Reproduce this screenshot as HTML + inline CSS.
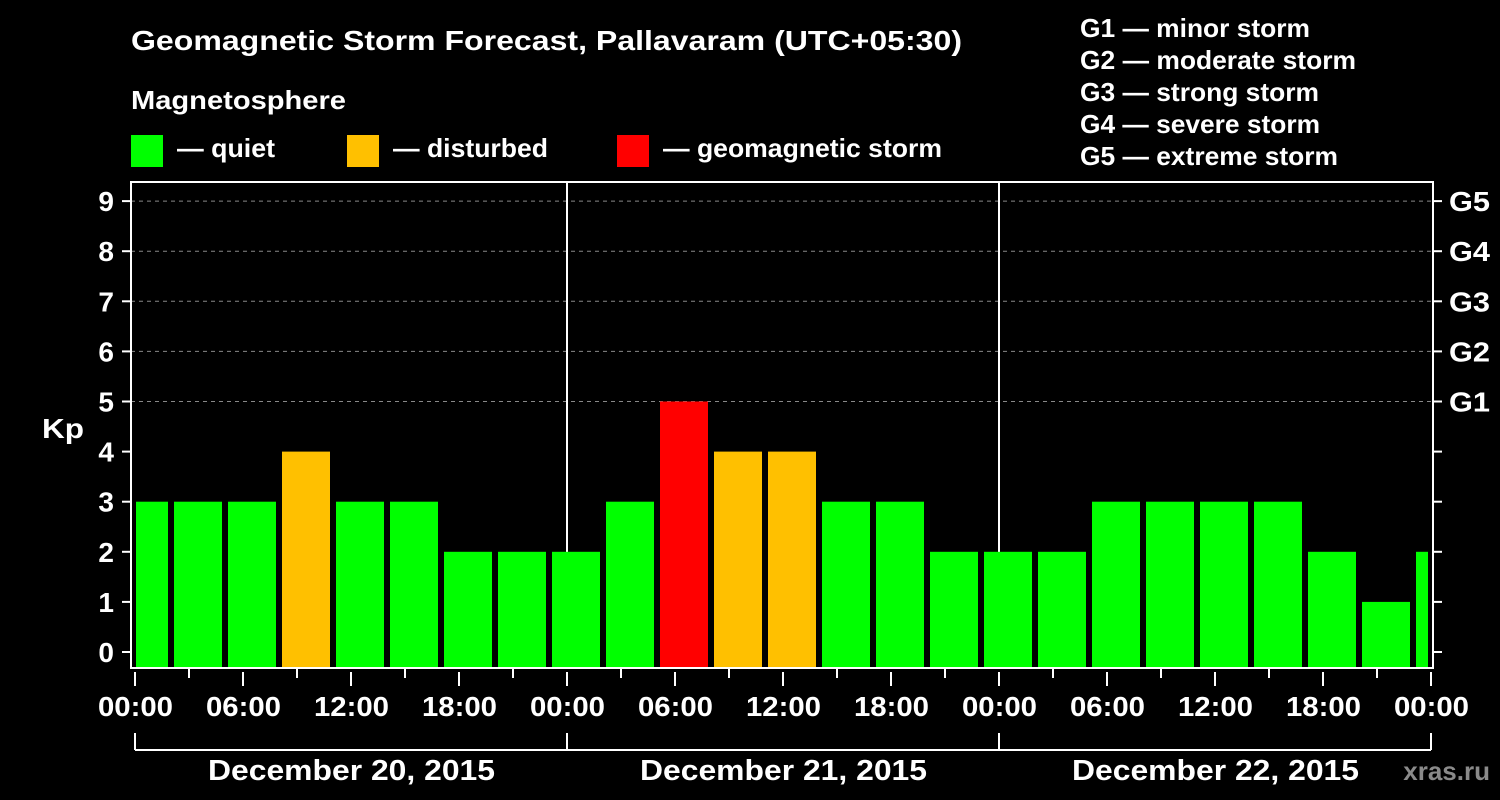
<!DOCTYPE html>
<html><head><meta charset="utf-8"><style>
html,body{margin:0;padding:0;background:#000;}
svg{display:block;font-family:"Liberation Sans",Arial,sans-serif;font-weight:bold;}
</style></head><body>
<svg id="chart" width="1500" height="800" xmlns="http://www.w3.org/2000/svg">
<rect x="0" y="0" width="1500" height="800" fill="#000"/>
<text x="131" y="50" fill="#fff" font-size="28" textLength="831" lengthAdjust="spacingAndGlyphs">Geomagnetic Storm Forecast, Pallavaram (UTC+05:30)</text>
<text x="131" y="109" fill="#fff" font-size="26" textLength="215" lengthAdjust="spacingAndGlyphs">Magnetosphere</text>
<g><rect x="131" y="135" width="32" height="32" fill="#00ff00"/><text x="177" y="157" fill="#fff" font-size="26" textLength="98" lengthAdjust="spacingAndGlyphs">— quiet</text></g>
<g><rect x="347" y="135" width="32" height="32" fill="#ffc000"/><text x="393" y="157" fill="#fff" font-size="26" textLength="155" lengthAdjust="spacingAndGlyphs">— disturbed</text></g>
<g><rect x="617" y="135" width="32" height="32" fill="#ff0000"/><text x="663" y="157" fill="#fff" font-size="26" textLength="279" lengthAdjust="spacingAndGlyphs">— geomagnetic storm</text></g>
<g fill="#fff" font-size="26">
<text x="1080" y="37" textLength="230" lengthAdjust="spacingAndGlyphs">G1 — minor storm</text>
<text x="1080" y="69" textLength="276" lengthAdjust="spacingAndGlyphs">G2 — moderate storm</text>
<text x="1080" y="101" textLength="239" lengthAdjust="spacingAndGlyphs">G3 — strong storm</text>
<text x="1080" y="133" textLength="240" lengthAdjust="spacingAndGlyphs">G4 — severe storm</text>
<text x="1080" y="165" textLength="258" lengthAdjust="spacingAndGlyphs">G5 — extreme storm</text>
</g>
<text x="42" y="438" fill="#fff" font-size="28" textLength="42" lengthAdjust="spacingAndGlyphs">Kp</text>
<text x="1490" y="780" fill="#8a8a8a" font-size="26" text-anchor="end">xras.ru</text>
<defs><clipPath id="pc"><rect x="136" y="182" width="1292" height="486"/></clipPath></defs>
<g id="grid"></g>
<g id="bars" clip-path="url(#pc)"></g>
<g id="axes"></g>
</svg>
<script>
const kpValues=[3,3,3,4,3,3,2,2,2,3,5,4,4,3,3,2,2,2,3,3,3,3,2,1,2];
const barStartHours=[-1,2,5,8,11,14,17,20,23,26,29,32,35,38,41,44,47,50,53,56,59,62,65,68,71];
const yTicks=[0,1,2,3,4,5,6,7,8,9];
const gLabels=["G1","G2","G3","G4","G5"];
const gLevels=[5,6,7,8,9];
const xTickLabels=["00:00","06:00","12:00","18:00","00:00","06:00","12:00","18:00","00:00","06:00","12:00","18:00","00:00"];
const dayLabels=["December 20, 2015","December 21, 2015","December 22, 2015"];
const NS="http://www.w3.org/2000/svg";
const X=h=>135+h*18, Y=v=>652-v*50.1;
function mk(tag,attrs,parent,text){const e=document.createElementNS(NS,tag);for(const k in attrs)e.setAttribute(k,attrs[k]);if(text!==undefined)e.textContent=text;document.getElementById(parent).appendChild(e);return e;}
const color=v=>v>=5?"#ff0000":v>=4?"#ffc000":"#00ff00";
gLevels.forEach((g,i)=>{
 const l=mk("line",{x1:131,x2:1433,y1:Y(g),y2:Y(g),stroke:"#888","stroke-dasharray":"4,4","stroke-width":1},"grid");
 
 
});
[1,2].forEach(d=>{const l=mk("line",{x1:X(d*24),x2:X(d*24),y1:182,y2:668,stroke:"#fff","stroke-width":2},"grid");
 
 });
kpValues.forEach((v,i)=>{
 const r=mk("rect",{x:X(barStartHours[i])+3,y:Y(v),width:48,height:668-Y(v),fill:color(v)},"bars");
 
 
});
const f=mk("rect",{x:131,y:182,width:1302,height:486,fill:"none",stroke:"#fff","stroke-width":2},"axes");


yTicks.forEach(v=>{
 mk("line",{x1:122,x2:131,y1:Y(v),y2:Y(v),stroke:"#fff","stroke-width":2},"axes");
 mk("line",{x1:1433,x2:1442,y1:Y(v),y2:Y(v),stroke:"#fff","stroke-width":2},"axes");
 const t=mk("text",{x:114,y:Y(v)+10,fill:"#fff","font-size":28,"text-anchor":"end"},"axes",String(v));
 
 
});
gLevels.forEach((g,i)=>{const t=mk("text",{x:1449,y:Y(g)+10,fill:"#fff","font-size":28,textLength:41,lengthAdjust:"spacingAndGlyphs"},"axes",gLabels[i]);
 
 });
for(let h=0;h<=72;h+=3){const major=h%6===0;
 mk("line",{x1:X(h),x2:X(h),y1:major?672:668,y2:major?686:678,stroke:"#fff","stroke-width":2},"axes");}
xTickLabels.forEach((s,i)=>{const t=mk("text",{x:X(i*6)-37,y:716,fill:"#fff","font-size":28,textLength:75,lengthAdjust:"spacingAndGlyphs"},"axes",s);
 
 });
mk("line",{x1:X(0),x2:X(72),y1:750,y2:750,stroke:"#fff","stroke-width":2},"axes");
[0,1,2,3].forEach(d=>mk("line",{x1:X(d*24),x2:X(d*24),y1:733,y2:750,stroke:"#fff","stroke-width":2},"axes"));
dayLabels.forEach((s,i)=>{const t=mk("text",{x:X(i*24+12)-143,y:780,fill:"#fff","font-size":29,textLength:287,lengthAdjust:"spacingAndGlyphs"},"axes",s);
 
 });
</script>
</body></html>
